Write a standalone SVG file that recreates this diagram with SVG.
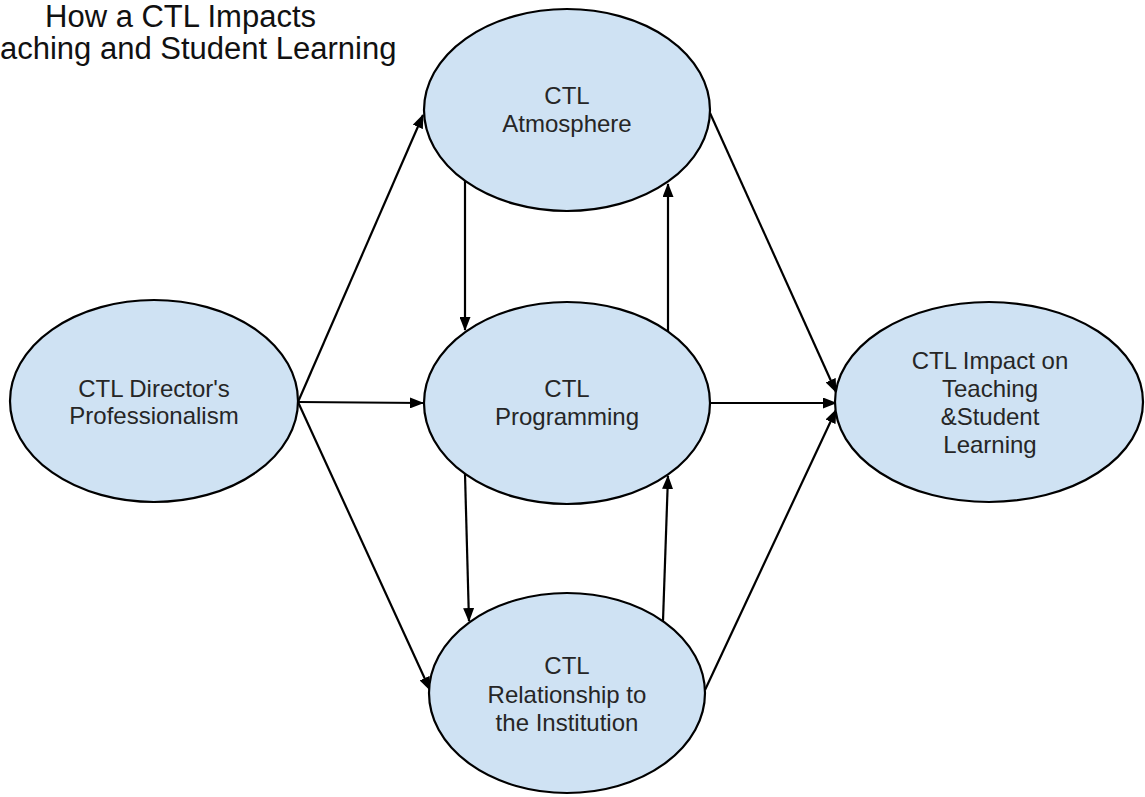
<svg xmlns="http://www.w3.org/2000/svg" width="1145" height="797" viewBox="0 0 1145 797">
  <style>
    .node ellipse { fill: #cfe2f3; stroke: #000; stroke-width: 2.2; }
    .node text { font-family: "Liberation Sans", Arial, sans-serif; font-size: 24px; fill: #262626; text-anchor: middle; }
    .title { font-family: "Liberation Sans", Arial, sans-serif; font-size: 31px; fill: #111; }
    .edge { stroke: #000; stroke-width: 2.2; fill: none; marker-end: url(#arrow); }
  </style>
  <defs>
    <marker id="arrow" viewBox="0 0 14 11" refX="13" refY="5.5" markerWidth="14" markerHeight="11" markerUnits="userSpaceOnUse" orient="auto">
      <path d="M0,0 L14,5.5 L0,11 z" fill="#000"/>
    </marker>
  </defs>
  <rect width="1145" height="797" fill="#fff"/>

  <!-- heading -->
  <g id="title">
    <text class="title" x="45" y="27">How a CTL Impacts</text>
    <text class="title" x="0" y="59">aching and Student Learning</text>
  </g>

  <!-- links between factors -->
  <g id="connectors">
    <line class="edge" x1="298" y1="402" x2="423" y2="115"/>
    <line class="edge" x1="298" y1="402" x2="423" y2="403"/>
    <line class="edge" x1="298" y1="402" x2="430" y2="690"/>
    <line class="edge" x1="465" y1="181" x2="465" y2="330"/>
    <line class="edge" x1="668" y1="331" x2="668" y2="184"/>
    <line class="edge" x1="465" y1="474" x2="469" y2="621"/>
    <line class="edge" x1="663" y1="621" x2="668" y2="476"/>
    <line class="edge" x1="710" y1="113" x2="836" y2="392"/>
    <line class="edge" x1="710" y1="403" x2="836" y2="403"/>
    <line class="edge" x1="705" y1="690" x2="836" y2="410"/>
  </g>

  <g id="director" class="node">
    <ellipse cx="154" cy="401" rx="144" ry="101"/>
    <text x="154" y="397">CTL Director's</text>
    <text x="154" y="424">Professionalism</text>
  </g>

  <g id="atmosphere" class="node">
    <ellipse cx="567" cy="110" rx="143" ry="101"/>
    <text x="567" y="104">CTL</text>
    <text x="567" y="132">Atmosphere</text>
  </g>

  <g id="programming" class="node">
    <ellipse cx="567" cy="403" rx="143" ry="101"/>
    <text x="567" y="397">CTL</text>
    <text x="567" y="425">Programming</text>
  </g>

  <g id="relationship" class="node">
    <ellipse cx="567" cy="693" rx="138" ry="100"/>
    <text x="567" y="674">CTL</text>
    <text x="567" y="703">Relationship to</text>
    <text x="567" y="731">the Institution</text>
  </g>

  <g id="impact" class="node">
    <ellipse cx="989" cy="402" rx="154" ry="100"/>
    <text x="990" y="369">CTL Impact on</text>
    <text x="990" y="397">Teaching</text>
    <text x="990" y="425">&amp;Student</text>
    <text x="990" y="453">Learning</text>
  </g>
</svg>
